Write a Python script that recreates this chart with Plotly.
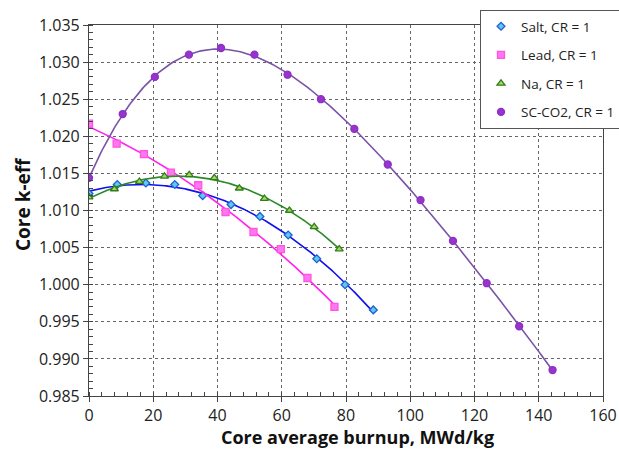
import numpy as np
import plotly.graph_objects as go

# ---- data ----
salt_x = [0, 8.8, 17.7, 26.7, 35.4, 44.2, 53.2, 62.0, 70.9, 79.7, 88.5]
salt_y = [1.0123, 1.0135, 1.0137, 1.0135, 1.0120, 1.0108, 1.0092, 1.0067, 1.0035, 1.0000, 0.9966]

lead_x = [0, 8.6, 17.1, 25.5, 34.0, 42.5, 51.2, 59.7, 68.0, 76.4]
lead_y = [1.0217, 1.0190, 1.0176, 1.0151, 1.0134, 1.0098, 1.0071, 1.0048, 1.0009, 0.9970]

na_x = [0, 7.9, 15.7, 23.5, 31.2, 39.0, 46.8, 54.6, 62.4, 70.1, 77.9]
na_y = [1.0118, 1.0129, 1.0139, 1.0146, 1.0148, 1.0144, 1.0130, 1.0116, 1.0100, 1.0078, 1.0048]

co2_x = [0, 10.5, 20.5, 31.1, 41.1, 51.5, 61.8, 72.2, 82.6, 93.0, 103.2, 113.3, 123.8, 133.9, 144.3]
co2_y = [1.0144, 1.0230, 1.0280, 1.0310, 1.0319, 1.0310, 1.0283, 1.0250, 1.0210, 1.0162, 1.0114, 1.0059, 1.0002, 0.9944, 0.9885]

x_title = "Core average burnup, MWd/kg"
y_title = "Core k-eff"

series = [
    ("Salt, CR = 1", salt_x, salt_y, 2, "diamond", "#1f5fd0", "#5fc8f2", "#1010ee", 6),
    ("Lead, CR = 1", lead_x, lead_y, 2, "square", "#ff55e0", "#ff77f0", "#ff22ee", 7),
    ("Na, CR = 1", na_x, na_y, 2, "triangle-up", "#2f7d1e", "#a8d85a", "#2a8a2a", 7),
    ("SC-CO2, CR = 1", co2_x, co2_y, 4, "circle", "#8a2fc8", "#9933cc", "#7a52a8", 7),
]

fig = go.Figure()
for name, xs, ys, deg, sym, edge, fill, lcol, msize in series:
    xs_a = np.array(xs)
    ys_a = np.array(ys)
    coef = np.polyfit(xs_a, ys_a, deg)
    xf = np.linspace(xs_a.min(), xs_a.max(), 200)
    yf = np.polyval(coef, xf)
    fig.add_trace(go.Scatter(
        x=xf, y=yf, mode="lines", line=dict(color=lcol, width=1.6),
        showlegend=False, hoverinfo="skip", legendgroup=name))
    fig.add_trace(go.Scatter(
        x=xs, y=ys, mode="markers", name=name,
        marker=dict(symbol=sym, size=msize, color=fill,
                    line=dict(color=edge, width=1.3)),
        legendgroup=name))

font = "Open Sans, Liberation Sans, sans-serif"

L, T, PW, PH = 89, 25, 514, 371

fig.update_layout(
    width=619, height=450,
    paper_bgcolor="white", plot_bgcolor="white",
    margin=dict(l=L, r=619 - L - PW, t=T, b=450 - T - PH, autoexpand=False),
    font=dict(family=font, size=15, color="#222"),
    legend=dict(
        x=(480 - L) / PW, y=(T + PH - 10) / PH, xanchor="left", yanchor="top",
        bgcolor="white", bordercolor="#555", borderwidth=1,
        font=dict(family=font, size=13.5, color="#222"),
        traceorder="grouped", tracegroupgap=8, itemwidth=30,
    ),
    showlegend=True,
    annotations=[
        dict(text="<b>" + x_title + "</b>", xref="paper", yref="paper",
             x=(357 - L) / PW, y=(T + PH - 437) / PH, xanchor="center", yanchor="middle",
             showarrow=False, font=dict(family=font, size=18, color="#111")),
        dict(text="<b>" + y_title + "</b>", xref="paper", yref="paper",
             x=(23 - L) / PW, y=(T + PH - 204) / PH, xanchor="center", yanchor="middle",
             textangle=-90, showarrow=False, font=dict(family=font, size=19, color="#111")),
    ],
)

fig.update_xaxes(
    range=[0, 160], dtick=20, tick0=0,
    showgrid=True, gridcolor="#666", griddash="dot", gridwidth=1,
    showline=True, linecolor="#444", linewidth=1.2, mirror=True,
    ticks="outside", ticklen=5, tickcolor="#444",
    minor=dict(ticks="inside", dtick=4, ticklen=4, tickcolor="#444", showgrid=False),
    tickfont=dict(size=16),
    zeroline=False,
)
fig.update_yaxes(
    range=[0.985, 1.035], dtick=0.005, tick0=0.985, tickformat=".3f",
    showgrid=True, gridcolor="#666", griddash="dot", gridwidth=1,
    showline=True, linecolor="#444", linewidth=1.2, mirror=True,
    ticks="outside", ticklen=5, tickcolor="#444",
    minor=dict(ticks="inside", dtick=0.001, ticklen=4, tickcolor="#444", showgrid=False),
    tickfont=dict(size=16),
    zeroline=False,
)

fig.write_html("out.html", config={"displayModeBar": False},
               post_script="document.body.style.margin='0';document.body.style.overflow='hidden';")
